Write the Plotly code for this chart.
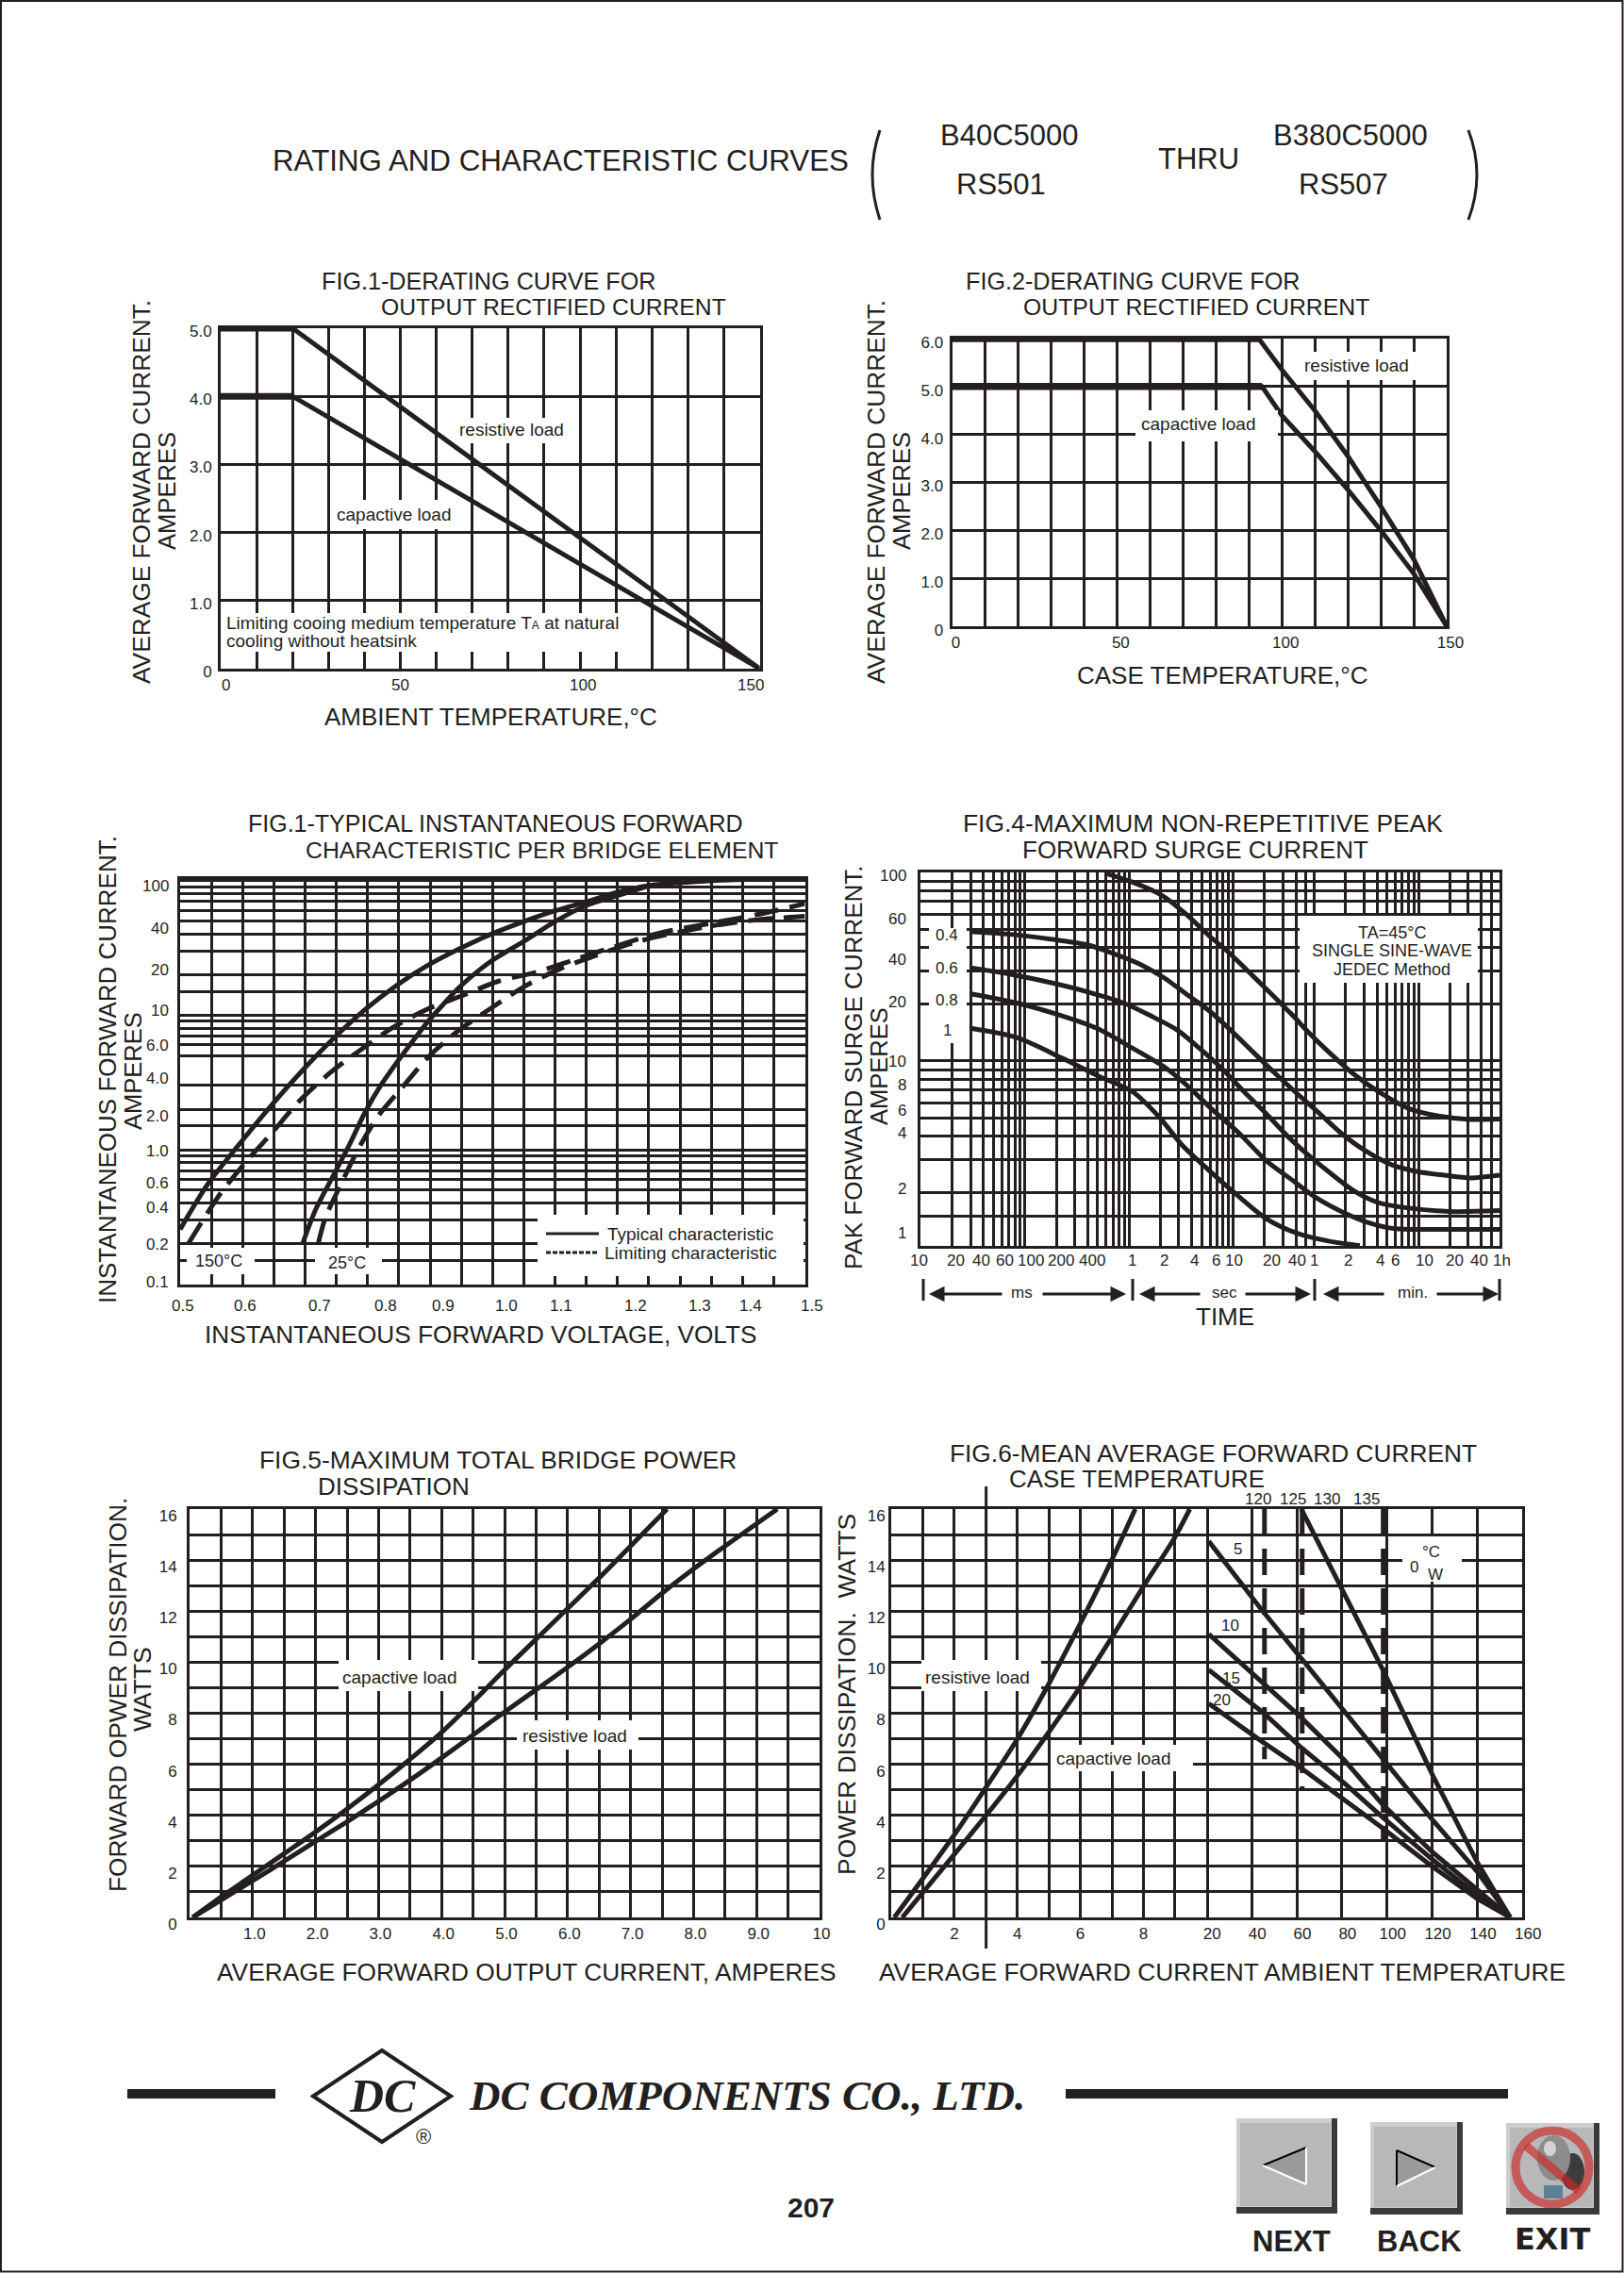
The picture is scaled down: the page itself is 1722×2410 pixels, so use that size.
import math
import plotly.graph_objects as go

W, H = 1722, 2410
INK = "#231f20"
SANS = "Liberation Sans"
SERIF = "Liberation Serif"

# ---------- data ----------
F1_T = [0, 20, 150]
F1_RES = [5, 5, 0]
F1_CAP = [4, 4, 0]

F2_RES_T = [0, 93, 100, 110, 120, 130, 140, 150]
F2_RES = [6, 6, 5.35, 4.5, 3.55, 2.5, 1.4, 0]
F2_CAP_T = [0, 94, 100, 110, 120, 130, 140, 150]
F2_CAP = [5, 5, 4.4, 3.65, 2.85, 2.0, 1.1, 0]

F3_T150_V = [.5, .544, .592, .644, .694, .744, .796, .846, .896, .946, .998, 1.05, 1.1, 1.15, 1.2, 1.25, 1.3, 1.352, 1.402]
F3_T150_I = [.256, .553, 1.06, 2.08, 3.8, 6.6, 11, 16.6, 23.4, 31, 40, 49.6, 59.6, 69.5, 82, 91.8, 96.4, 100, 102]
F3_T25_V = [.696, .717, .744, .771, .796, .821, .846, .871, .896, .921, .946, .998, 1.05, 1.1, 1.15, 1.2, 1.252]
F3_T25_I = [.2, .36, .627, 1.09, 1.9, 3, 4.4, 6.3, 8.9, 12, 16, 25.2, 35.3, 49.6, 65.4, 77.2, 91.8]
F3_L150_V = [.513, .54, .567, .609, .648, .69, .74, .786, .84, .894, .952, 1.01, 1.071, 1.133, 1.194, 1.271, 1.348, 1.425, 1.5]
F3_L150_I = [.2, .318, .49, .85, 1.35, 2.28, 3.73, 5.4, 8.06, 11, 14, 17.9, 20.9, 26, 32.2, 41.2, 48, 56, 67.4]
F3_L25_V = [.721, .732, .756, .786, .817, .856, .898, .944, .998, 1.052, 1.11, 1.164, 1.233, 1.341, 1.425, 1.5]
F3_L25_I = [.2, .308, .537, 1.03, 1.78, 2.92, 4.93, 7.58, 11.3, 16.4, 22.3, 27.6, 35.3, 45.2, 51.2, 54.3]
F3_XGRID = [.5, .55, .6, .65, .7, .75, .8, .85, .9, .95, 1.0, 1.05, 1.1, 1.15, 1.2, 1.25, 1.3, 1.35, 1.4, 1.45, 1.5]
F3_YGRID = [.1, .15, .2, .3, .4, .5, .6, .7, .8, .9, 1, 1.5, 2, 3, 5, 6, 7, 8, 9, 10, 15, 20, 30, 40, 50, 60, 70, 80, 90, 100]
F3_YLABELS = [100, 40, 20, 10, 6, 4, 2, 1, .6, .4, .2, .1]
F3_YTEXT = ["100", "40", "20", "10", "6.0", "4.0", "2.0", "1.0", "0.6", "0.4", "0.2", "0.1"]
F3_XLABELS = [.5, .6, .7, .8, .9, 1.0, 1.1, 1.2, 1.3, 1.4, 1.5]
F3_XTEXT = ["0.5", "0.6", "0.7", "0.8", "0.9", "1.0", "1.1", "1.2", "1.3", "1.4", "1.5"]

F4_A_T = [.6, 1.08, 2.05, 3.52, 5.77, 8.97, 15.4, 25.2, 37.4, 52.7, 82, 148, 267, 483, 962, 1914, 3600]
F4_A_I = [98.6, 88.7, 75.8, 60.1, 46.5, 37.8, 28.3, 21.7, 17.4, 14.2, 11.2, 8.4, 6.7, 5.6, 5.1, 4.9, 4.92]
F4_B_T = [.0301, .0689, .184, .405, .73, 1.32, 2.15, 3.52, 5.77, 9.42, 15.4, 25.2, 41.2, 67.4, 110, 180, 326, 587, 1060, 1914, 3600]
F4_B_I = [48.6, 47.1, 44.1, 41.2, 36.9, 32.3, 27.7, 22.7, 18.6, 14.6, 11.2, 8.6, 6.7, 5.26, 4.12, 3.38, 2.83, 2.59, 2.48, 2.4, 2.48]
F4_C_T = [.0301, .0689, .184, .405, .889, 1.6, 2.9, 4.73, 7.74, 12.7, 20.7, 33.9, 55.5, 90.6, 148, 243, 483, 1294, 3600]
F4_C_I = [31.2, 29, 25.9, 23.2, 20.3, 17.4, 14.6, 11.7, 9.15, 6.87, 5.26, 3.95, 3.09, 2.48, 2.03, 1.78, 1.66, 1.59, 1.61]
F4_D_T = [.0301, .0838, .224, .492, 1.08, 2.15, 3.52, 6.35, 11.5, 20.7, 37.4, 61, 110, 199, 360, 789, 3600]
F4_D_I = [22.7, 20.3, 17.4, 14.9, 11.7, 9.35, 7.5, 5.5, 4.12, 2.96, 2.32, 1.9, 1.59, 1.39, 1.29, 1.28, 1.28]
F4_E_T = [.0301, .0838, .224, .492, 1.08, 1.95, 3.19, 5.77, 10.4, 20.7, 41.2, 82, 164]
F4_E_I = [14.9, 13.3, 10.4, 8.38, 6.87, 5.04, 3.61, 2.65, 1.99, 1.46, 1.22, 1.11, 1.05]
F4_XGRID = [.01, .02, .03, .04, .05, .06, .07, .08, .09, .1, .2, .3, .4, .5, .6, .7, .8, .9,
            1, 2, 3, 4, 5, 6, 7, 8, 9, 10, 20, 30, 40, 50,
            60, 120, 180, 240, 300, 360, 420, 480, 540, 600, 1200, 1800, 2400, 3000, 3600]
F4_YGRID = [1.5, 2, 3, 4, 5, 6, 7, 8, 9, 10, 20, 30, 40, 50, 60, 70, 80, 90, 100]
F4_XLABELS = [.01, .02, .04, .06, .1, .2, .4, 1, 2, 4, 6, 10, 20, 40, 60, 120, 240, 360, 600, 1200, 2400, 3600]
F4_XTEXT = ["10", "20", "40", "60", "100", "200", "400", "1", "2", "4", "6", "10", "20", "40", "1", "2", "4", "6", "10", "20", "40", "1h"]
F4_YLABELS = [100, 60, 40, 20, 10, 8, 6, 4, 2, 1.05]
F4_YTEXT = ["100", "60", "40", "20", "10", "8", "6", "4", "2", "1"]

F5_CAP_I = [.05, .5, 1, 1.5, 2, 2.5, 3, 3.5, 4, 4.5, 5, 5.5, 6, 6.5, 7, 7.58]
F5_CAP_P = [0, .8, 1.65, 2.5, 3.35, 4.25, 5.2, 6.2, 7.25, 8.45, 9.7, 10.9, 12.1, 13.3, 14.55, 16]
F5_RES_I = [.05, .5, 1, 1.5, 2, 2.5, 3, 3.5, 4, 4.5, 5, 5.5, 6, 6.5, 7, 7.5, 8, 8.5, 9.33]
F5_RES_P = [0, .68, 1.44, 2.2, 2.98, 3.75, 4.55, 5.38, 6.25, 7.15, 8.05, 8.92, 9.8, 10.72, 11.68, 12.7, 13.65, 14.55, 16]

F6_RES_I = [.1, 2.02, 3.01, 4.03, 5.02, 6, 6.99, 7.74]
F6_RES_P = [0, 3.27, 5.1, 7.05, 9.2, 11.52, 13.99, 16]
F6_CAP_I = [.35, 2.02, 3.01, 4.03, 5.02, 6, 6.99, 7.98, 8.97, 9.47]
F6_CAP_P = [0, 2.5, 4, 5.6, 7.3, 9.05, 10.96, 12.93, 14.84, 16]
F6_R0_T = [62, 81.2, 98.3, 120.4, 140.1, 154.6]
F6_R0_P = [16, 12.7, 9.68, 5.54, 2.14, 0]
F6_R5_T = [21, 44, 62, 81.2, 98.3, 120, 140, 154.6]
F6_R5_P = [14.74, 12.1, 10.15, 8.04, 6.16, 3.84, 1.79, 0]
F6_R10_T = [21, 45.4, 62, 81.2, 98.3, 120, 140, 154.6]
F6_R10_P = [11.1, 9.12, 7.83, 6.15, 4.4, 2.57, 1.09, 0]
F6_R15_P = [9.7, 8, 6.65, 5.25, 3.9, 2.28, .87, 0]
F6_R20_P = [8.38, 6.84, 5.85, 4.61, 3.48, 2, .73, 0]
F6_ISO_T = [45.7, 62.4, 98.3]
F6_ISO_LOW = [6.2, 5, 3]
F6_MARK_I = 3.01


# ---------- helpers ----------
def px(x):
    return x / W


def py(y):
    return 1 - y / H


shapes, anns, traces = [], [], []


def text(s, x, y, size=19, anchor="center", angle=0, family=SANS, color=INK):
    anns.append(dict(text=s, x=px(x), y=py(y), xref="paper", yref="paper", showarrow=False,
                     xanchor=anchor, yanchor="middle", textangle=angle, align="left",
                     font=dict(family=family, size=size, color=color), borderpad=0, borderwidth=0))


def rect(x0, y0, x1, y1, fill="white", line=None, lw=0, kind="rect"):
    shapes.append(dict(type=kind, xref="paper", yref="paper", x0=px(x0), x1=px(x1), y0=py(y0), y1=py(y1),
                       fillcolor=fill, line=dict(color=line or fill, width=lw), layer="above"))


def seg(x0, y0, x1, y1, color=INK, width=3):
    shapes.append(dict(type="line", xref="paper", yref="paper", x0=px(x0), x1=px(x1), y0=py(y0), y1=py(y1),
                       line=dict(color=color, width=width), layer="above"))


def poly(points, fill="rgba(0,0,0,0)", color=INK, width=3):
    d = "M " + " L ".join(f"{px(a):.6f},{py(b):.6f}" for a, b in points) + " Z"
    shapes.append(dict(type="path", xref="paper", yref="paper", path=d, fillcolor=fill,
                       line=dict(color=color, width=width), layer="above"))


def curve(n, xs, ys, width=5, dash=None, spline=False):
    traces.append(go.Scatter(x=xs, y=ys, mode="lines", xaxis=f"x{n}", yaxis=f"y{n}", cliponaxis=False,
                             hoverinfo="skip", showlegend=False,
                             line=dict(color=INK, width=width, dash=dash,
                                       shape="spline" if spline else "linear", smoothing=0.8)))


def xtick(n, value, label, y, shift=0, size=17):
    anns.append(dict(text=label, x=value, y=py(y), xref=f"x{n}", yref="paper", showarrow=False, xshift=shift,
                     xanchor="center", yanchor="middle", font=dict(family=SANS, size=size, color=INK)))


def ytick(n, value, label, right, shift=0, size=17):
    anns.append(dict(text=label, x=px(right), y=value, xref="paper", yref=f"y{n}", showarrow=False, yshift=-shift,
                     xanchor="right", yanchor="middle", font=dict(family=SANS, size=size, color=INK)))


layout = dict(width=W, height=H, margin=dict(l=0, r=0, t=0, b=0, autoexpand=False), autosize=False, showlegend=False,
              paper_bgcolor="white", plot_bgcolor="white", font=dict(family=SANS, color=INK, size=17))


def axis(letter, n, lo, hi, rng, vals, labels=None, kind="linear", grid=3, shift=0, standoff=0, **extra):
    a = dict(domain=[lo, hi], range=rng, type=kind, tickmode="array", tickvals=vals,
             ticktext=labels if labels else ["" for _ in vals], showticklabels=bool(labels),
             showgrid=True, gridcolor=INK, gridwidth=grid, zeroline=False, showline=True, linecolor=INK,
             linewidth=grid, mirror=True, ticks="", layer="below traces", fixedrange=True,
             tickfont=dict(family=SANS, size=17, color=INK),
             anchor=("y" if letter == "x" else "x") + str(n))
    if shift:
        a["ticklabelshift"] = shift
    if standoff:
        a["ticklabelstandoff"] = standoff
    a.update(extra)
    layout[f"{letter}axis{n}"] = a


def frame(n, l, r, t, b, xrng, xvals, yrng, yvals, xlabels=None, ylabels=None, xkind="linear", ykind="linear",
          grid=3, xshift=0, yshift=0, ystandoff=0, yextra=None):
    axis("x", n, px(l), px(r), xrng, xvals, xlabels, xkind, grid, xshift)
    axis("y", n, py(b), py(t), yrng, yvals, ylabels, ykind, grid, yshift, ystandoff, **(yextra or {}))


# ---------- Fig 1 ----------
frame(1, 234, 805.5, 348, 709, [0, 150], list(range(0, 151, 10)), [0, 5], [0, 1, 2, 3, 4, 5],
      ylabels=["0", "1.0", "2.0", "3.0", "4.0", "5.0"], yshift=3, ystandoff=3)
curve(1, F1_T, F1_RES)
curve(1, F1_T, F1_CAP)
curve(1, F1_T[:2], F1_RES[:2], width=7)
curve(1, F1_T[:2], F1_CAP[:2], width=7)
for v, lab, s in zip([0, 50, 100, 150], ["0", "50", "100", "150"], [5, 0, 3, -10]):
    xtick(1, v, lab, 726, s)

# ---------- Fig 2 ----------
frame(2, 1009.5, 1534, 359, 664, [0, 150], list(range(0, 151, 10)), [0, 6], [0, 1, 2, 3, 4, 5, 6],
      xlabels=[str(v) if v % 50 == 0 else "" for v in range(0, 151, 10)],
      ylabels=["0", "1.0", "2.0", "3.0", "4.0", "5.0", "6.0"], xshift=4, yshift=4, ystandoff=3)
curve(2, F2_RES_T, F2_RES)
curve(2, F2_CAP_T, F2_CAP)
curve(2, F2_RES_T[:2], F2_RES[:2], width=7.5)
curve(2, F2_CAP_T[:2], F2_CAP[:2], width=7.5)

# ---------- Fig 3 ----------
frame(3, 191, 853.5, 931.5, 1361.7, [.5, 1.5], F3_XGRID, [-1, 2.015], F3_YGRID, ykind="log")
curve(3, F3_T150_V, F3_T150_I, spline=True)
curve(3, F3_T25_V, F3_T25_I, spline=True)
curve(3, F3_L150_V, F3_L150_I, dash="26px,12px", spline=True)
curve(3, F3_L25_V, F3_L25_I, dash="26px,12px", spline=True)
for v, lab, s in zip(F3_XLABELS, F3_XTEXT, [3, 3, 15, 19, 14, 15, 6, 19, 21, 9, 7]):
    xtick(3, v, lab, 1384, s)
for v, lab, s in zip(F3_YLABELS, F3_YTEXT, [6, -6, -5, -5, 1, 10, 7, 1, 4, 5, 1, -2]):
    ytick(3, math.log10(v), lab, 181, s)

# ---------- Fig 4 ----------
frame(4, 976.3, 1590, 925, 1321, [-2, math.log10(3600)], F4_XGRID, [math.log10(1.046), 2], F4_YGRID,
      xkind="log", ykind="log")
curve(4, F4_A_T, F4_A_I, spline=True)
curve(4, F4_B_T, F4_B_I, spline=True)
curve(4, F4_C_T, F4_C_I, spline=True)
curve(4, F4_D_T, F4_D_I, spline=True)
curve(4, F4_E_T, F4_E_I, spline=True)
for v, lab, s in zip(F4_XLABELS, F4_XTEXT, [-2, 4, -2, 3, 6, 5, 5, 3, 4, 3, 6, 1, 8, 1, 0, 3, 3, 0, 6, 5, -2, 2]):
    xtick(4, math.log10(v), lab, 1336, s)
for v, lab, s in zip(F4_YLABELS, F4_YTEXT, [4, 5, 13, -2, 1, 6, 8, -3, -4, -13]):
    ytick(4, math.log10(v), lab, 963, s)

# ---------- Fig 5 ----------
frame(5, 201, 869, 1600, 2033, [0, 10], [v / 2 for v in range(21)], [0, 16], list(range(17)),
      xlabels=["" if v == 0 else ("10" if v == 20 else f"{v / 2:.1f}" if v % 2 == 0 else "") for v in range(21)],
      ylabels=[str(v) if v % 2 == 0 else "" for v in range(17)], xshift=2, yshift=7, ystandoff=7)
curve(5, F5_CAP_I, F5_CAP_P, spline=True)
curve(5, F5_RES_I, F5_RES_P, spline=True)

# ---------- Fig 6 (two current / temperature panels) ----------
frame(6, 945, 1279.3, 1600, 2033, [0, 10], list(range(11)), [0, 16], list(range(17)),
      xlabels=["", "", "2", "", "4", "", "6", "", "8", "", ""],
      ylabels=[str(v) if v % 2 == 0 else "" for v in range(17)], yshift=7)
frame(7, 1279.3, 1614.3, 1600, 2033, [20, 160], list(range(20, 161, 20)), [0, 16], list(range(17)),
      xlabels=[str(v) for v in range(20, 161, 20)], xshift=6, yextra=dict(side="right", mirror=False))
curve(6, F6_RES_I, F6_RES_P, spline=True)
curve(6, F6_CAP_I, F6_CAP_P, spline=True)
curve(7, F6_R0_T, F6_R0_P)
curve(7, F6_R5_T, F6_R5_P)
curve(7, F6_R10_T, F6_R10_P)
curve(7, F6_R10_T, F6_R15_P)
curve(7, F6_R10_T, F6_R20_P)
for t, low in zip(F6_ISO_T, F6_ISO_LOW):
    curve(7, [t, t], [16, low], dash="28px,14px")
shapes.append(dict(type="line", xref="x6", yref="paper", x0=F6_MARK_I, x1=F6_MARK_I, y0=py(1576), y1=py(2066),
                   line=dict(color=INK, width=3), layer="above"))

# ---------- white label boxes ----------
for box in [
    (482, 443, 600, 470), (352, 530, 483, 561), (235, 650, 657, 691),               # fig 1
    (1373, 373, 1503, 403), (1204, 435, 1355, 468),                                  # fig 2
    (198, 1323, 270, 1351), (334, 1323, 405, 1351), (570, 1288, 852, 1353),          # fig 3
    (1378, 971, 1567, 1042), (985, 984, 1025, 1106),                                 # fig 4
    (359, 1760, 507, 1793), (548, 1824, 677, 1855),                                  # fig 5
    (977, 1760, 1104, 1793), (1114, 1850, 1265, 1878), (1487, 1629, 1550, 1677),     # fig 6
]:
    rect(*box)

# ---------- header ----------
text("RATING AND CHARACTERISTIC CURVES", 289, 171, 31.3, "left")
text("B40C5000", 1070, 143, 31)
text("RS501", 1061, 195, 31)
text("THRU", 1271, 169, 31)
text("B380C5000", 1432, 143, 31)
text("RS507", 1424, 195, 31)
for x0, c in [(933, 917), (1557, 1575)]:
    shapes.append(dict(type="path", xref="paper", yref="paper", layer="above",
                       path=f"M {px(x0):.5f},{py(138):.5f} Q {px(c):.5f},{py(185):.5f} {px(x0):.5f},{py(233):.5f}",
                       line=dict(color=INK, width=3)))

# ---------- figure titles and axis titles ----------
text("FIG.1-DERATING CURVE FOR", 341, 298, 25.2, "left")
text("OUTPUT RECTIFIED CURRENT", 404, 326, 24.7, "left")
text("FIG.2-DERATING CURVE FOR", 1024, 298, 25.2, "left")
text("OUTPUT RECTIFIED CURRENT", 1085, 326, 24.8, "left")
text("FIG.1-TYPICAL INSTANTANEOUS FORWARD", 263, 873, 25, "left")
text("CHARACTERISTIC PER BRIDGE ELEMENT", 324, 901, 24.8, "left")
text("FIG.4-MAXIMUM NON-REPETITIVE PEAK", 1021, 873, 26.4, "left")
text("FORWARD SURGE CURRENT", 1084, 901, 26, "left")
text("FIG.5-MAXIMUM TOTAL BRIDGE POWER", 275, 1548, 26.4, "left")
text("DISSIPATION", 337, 1576, 26, "left")
text("FIG.6-MEAN AVERAGE FORWARD CURRENT", 1007, 1541, 26.3, "left")
text("CASE TEMPERATURE", 1070, 1568, 25.9, "left")

for s, x, y, size in [
    ("AVERAGE FORWARD CURRENT.", 150, 522, 26.3), ("AMPERES", 177, 521, 25.6),
    ("AVERAGE FORWARD CURRENT.", 929, 522, 26.3), ("AMPERES", 956, 521, 25.6),
    ("INSTANTANEOUS FORWARD CURRENT.", 114, 1134, 26), ("AMPERES", 141, 1136, 25.5),
    ("PAK FORWARD SURGE CURRENT.", 905, 1132, 26), ("AMPERES", 932, 1131, 25.5),
    ("FORWARD OPWER DISSIPATION.", 125, 1797, 26.3), ("WATTS", 151, 1791, 26.5),
    ("POWER DISSIPATION.  WATTS", 898, 1797, 26.5),
]:
    text(s, x, y, size, angle=-90)

text("AMBIENT TEMPERATURE,°C", 520, 760, 26)
text("CASE TEMPERATURE,°C", 1296, 716, 26)
text("INSTANTANEOUS FORWARD VOLTAGE, VOLTS", 509.5, 1415, 26.2)
text("TIME", 1299, 1396, 26)
text("AVERAGE FORWARD OUTPUT CURRENT, AMPERES", 558, 2091, 26.3)
text("AVERAGE FORWARD CURRENT AMBIENT TEMPERATURE", 1296, 2091, 26.3)

# ---------- in-plot labels ----------
text("resistive load", 542, 455)
text("capactive load", 417.5, 546)
text('Limiting cooing medium temperature T<span style="font-size:12px">A</span> at natural', 240, 660, 19, "left")
text("cooling without heatsink", 240, 679, 19, "left")
text("resistive load", 1438, 388)
text("capactive load", 1270, 449)
text("150°C", 232, 1337, 18)
text("25°C", 368, 1339, 18)
seg(579, 1308, 635, 1308, INK, 3)
shapes.append(dict(type="line", xref="paper", yref="paper", x0=px(579), x1=px(633), y0=py(1328), y1=py(1328),
                   line=dict(color=INK, width=3, dash="5px,2px"), layer="above"))
text("Typical characteristic", 732, 1308)
text("Limiting characteristic", 732, 1328)
text("TA=45°C", 1476, 989, 18)
text("SINGLE SINE-WAVE", 1476, 1008, 18)
text("JEDEC Method", 1476, 1028, 18)
for s, y in [("0.4", 991), ("0.6", 1026), ("0.8", 1060), ("1", 1093)]:
    text(s, 1004, y, 17)
text("capactive load", 423, 1778.5)
text("resistive load", 609, 1841)
text("resistive load", 1036, 1778)
text("capactive load", 1180, 1864)
for s, x in [("120", 1334), ("125", 1371), ("130", 1406.5), ("135", 1449)]:
    text(s, x, 1589, 17)
for s, x, y in [("5", 1312.7, 1642.7), ("10", 1304, 1723), ("15", 1305, 1779), ("20", 1295.7, 1802.7),
                ("0", 1499, 1661), ("°C", 1517, 1645), ("W", 1522, 1669)]:
    text(s, x, y, 17)

# ---------- fig 4 time brackets ----------
for x in [979, 1201, 1394, 1590]:
    seg(x, 1356, x, 1379, INK, 3)
for tail, head in [(1064, 985), (1104, 1194), (1274, 1208), (1319, 1390), (1469, 1403), (1522, 1589)]:
    anns.append(dict(text="", x=px(head), y=py(1372), xref="paper", yref="paper", showarrow=True,
                     ax=tail - head, ay=0, arrowhead=2, arrowsize=1.1, arrowwidth=3, arrowcolor=INK))
text("ms", 1083, 1370, 17)
text("sec", 1298, 1370, 17)
text("min.", 1498, 1370, 17)

# ---------- footer ----------
rect(135, 2215, 292, 2225, INK)
rect(1130, 2215, 1599, 2225, INK)
poly([(405, 2174), (478, 2222.5), (405, 2271), (332, 2222.5)], "white", INK, 4)
text("<b><i>DC</i></b>", 405, 2222, 50, family=SERIF)
text("®", 449, 2265, 22)
text("<b><i>DC COMPONENTS CO., LTD.</i></b>", 497, 2222, 45, "left", family=SERIF)
text("<b>207</b>", 860, 2340, 30)


def button(x0, y0, x1, y1):
    rect(x0, y0, x1, y1, "#3a3a3a")
    rect(x0, y0, x1 - 6, y1 - 7, "#cdcdcd")
    rect(x0 + 4, y0 + 5, x1 - 7, y1 - 8, "#b8b8b8")


button(1311, 2246, 1418, 2347)
button(1453, 2250, 1551, 2348)
button(1597, 2251, 1696, 2348)
poly([(1339, 2296), (1385, 2277), (1385, 2316)], "#9a9a9a", "#9a9a9a", 0)
seg(1339, 2296, 1385, 2277, "black", 2)
seg(1339, 2296, 1385, 2316, "white", 2)
seg(1385, 2277, 1385, 2316, "white", 2)
poly([(1481, 2280), (1522, 2298), (1481, 2318)], "#9a9a9a", "#9a9a9a", 0)
seg(1481, 2280, 1481, 2318, "black", 2)
seg(1481, 2280, 1522, 2298, "black", 2)
seg(1481, 2318, 1522, 2298, "white", 2)
rect(1655, 2283, 1680, 2322, "#3c3c3c", kind="circle")
rect(1630, 2264, 1665, 2312, "#8c8c8c", kind="circle")
rect(1637, 2270, 1650, 2286, "#d4d4d4", kind="circle")
rect(1637, 2317, 1657, 2331, "#5d8296")
shapes.append(dict(type="circle", xref="paper", yref="paper", x0=px(1607), x1=px(1685), y0=py(2259), y1=py(2337),
                   fillcolor="rgba(0,0,0,0)", line=dict(color="rgba(205,40,40,0.65)", width=9), layer="above"))
seg(1618, 2275, 1674, 2323, "rgba(205,40,40,0.65)", 9)
text("<b>NEXT</b>", 1369, 2376, 31)
text("<b>BACK</b>", 1505, 2376, 31)
text("<b>EXIT</b>", 1646, 2374, 32, family="DejaVu Sans")

# page border
shapes.append(dict(type="rect", xref="paper", yref="paper", x0=px(1), x1=px(1720.5), y0=py(2408.5), y1=py(1),
                   line=dict(color=INK, width=2), fillcolor="rgba(0,0,0,0)", layer="above"))

layout["shapes"] = shapes
layout["annotations"] = anns

fig = go.Figure(data=traces, layout=layout)
fig.write_html("out.html", config={"displayModeBar": False},
               post_script="document.body.style.margin='0';document.body.style.overflow='hidden';")
